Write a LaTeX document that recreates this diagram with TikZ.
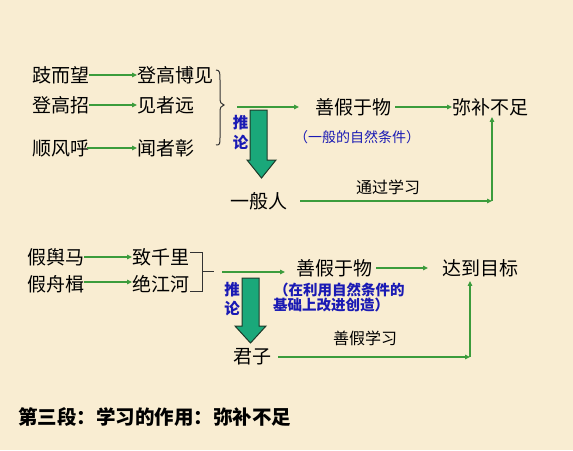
\documentclass[tikz,border=0pt]{standalone}
\usepackage{fontspec}
\setmainfont{Noto Sans CJK SC}
\usetikzlibrary{arrows.meta}
\definecolor{bg}{HTML}{F9EDD2}
\definecolor{ln}{HTML}{3C9C3C}
\definecolor{bigg}{HTML}{1AA87A}
\definecolor{bigd}{HTML}{1E3A2A}
\definecolor{lbl}{HTML}{1A1AB4}
\begin{document}
\begin{tikzpicture}[x=1pt,y=-1pt,
  t/.style={inner sep=0pt, anchor=west, font=\fontsize{19}{19}\selectfont},
  sm/.style={inner sep=0pt, anchor=west, font=\fontsize{16}{16}\selectfont},
  bl/.style={inner sep=0pt, anchor=west, text=lbl, font=\fontsize{14}{14}\selectfont},
  blb/.style={inner sep=0pt, anchor=west, text=lbl, font=\bfseries\fontsize{14.5}{14.5}\selectfont},
  tui/.style={inner sep=0pt, anchor=center, text=lbl, font=\bfseries\fontsize{15.5}{15.5}\selectfont},
  ga/.style={draw=ln, line width=1.2pt, -{Triangle[length=5pt,width=4.5pt]}},
  big/.style={fill=bigg, draw=bigd, line width=1pt, line join=miter},
  br/.style={draw=black!80, line width=1pt}
]
\fill[bg] (0,0) rectangle (573,450);
\useasboundingbox (0,0) rectangle (573,450);

% ---------- upper part ----------
\node[t] (a1) at (32,75) {跂而望};
\node[t] (b1) at (137,75) {登高博见};
\node[t] (a2) at (32,105) {登高招};
\node[t] (b2) at (137,105) {见者远};
\node[t] (a3) at (32,148) {顺风呼};
\node[t] (b3) at (137,148) {闻者彰};
\draw[ga] (a1.east) -- (b1.west);
\draw[ga] (a2.east) -- (b2.west);
\draw[ga] ([xshift=-2pt]a3.east) -- (b3.west);

\draw[br] (216,70) .. controls (220,70) and (220,73) .. (220,80) -- (220,97)
  .. controls (220,103) and (221,104) .. (224,105)
  .. controls (221,106) and (220,107) .. (220,113) -- (220,137)
  .. controls (220,144) and (220,145) .. (216,145);

\node[t] (s1) at (315,107) {善假于物};
\node[t] (m1) at (452,107) {弥补不足};
\coordinate (c1) at (237,107);
\draw[ga, shorten >=16pt] (c1) -- (c1 -| s1.west);
\draw[ga] ([xshift=4pt]s1.east) -- (m1.west);
\node[bl] (n1) at (294,137) {（一般的自然条件）};

\draw[big] (250,110) -- (267,110) -- (267,160) -- (276,160) -- (261.5,178)
  -- (247,160) -- (250,160) -- cycle;
\node[tui] (tu1) at (240.5,123) {推};
\node[tui] (lu1) at (240.5,143) {论};

\node[t] (p1) at (230,201) {一般人};
\node[sm] (g1) at (356,187) {通过学习};
\coordinate (k1) at (492,201);
\draw[ga, shorten <=13pt] (p1.east |- k1) -- (k1);
\draw[ga, shorten >=1pt] (k1) -- (k1 |- m1.south);

% ---------- lower part ----------
\node[t] (a4) at (27,257) {假舆马};
\node[t] (b4) at (132,257) {致千里};
\node[t] (a5) at (27,284) {假舟楫};
\node[t] (b5) at (132,284) {绝江河};
\draw[ga] (a4.east) -- (b4.west);
\draw[ga] ([yshift=2pt]a5.east) -- ([yshift=2pt]b5.west);

\draw[br] (190,252) -- (202,252) -- (202,291) -- (190,291);
\draw[br] (202,271.5) -- (214,271.5);

\node[t] (s2) at (296,268) {善假于物};
\node[t] (m2) at (442,268) {达到目标};
\coordinate (c2) at (222,272);
\draw[ga, shorten >=11pt] (c2) -- (c2 -| s2.west);
\draw[ga, shorten >=14pt] ([xshift=4pt]s2.east) -- (m2.west);
\node[blb] (n2) at (274,290) {（在利用自然条件的};
\node[blb] (n3) at (273,305) {基础上改进创造）};

\draw[big] (242,278) -- (259,278) -- (259,326) -- (266,326) -- (250.5,343)
  -- (235,326) -- (242,326) -- cycle;
\node[tui] (tu2) at (232,290) {推};
\node[tui] (lu2) at (232,309) {论};

\node[t] (p2) at (233,357) {君子};
\node[sm] (g2) at (333,338) {善假学习};
\coordinate (k2) at (470,357);
\draw[ga, shorten <=7pt] (p2.east |- k2) -- (k2);
\draw[ga, shorten >=4pt] (k2) -- (k2 |- m2.south);

% ---------- bottom ----------
\node[inner sep=0pt, anchor=west, font=\bfseries\fontsize{19.5}{19.5}\selectfont] (bt) at (18,417) {第三段：学习的作用：弥补不足};
\end{tikzpicture}
\end{document}
